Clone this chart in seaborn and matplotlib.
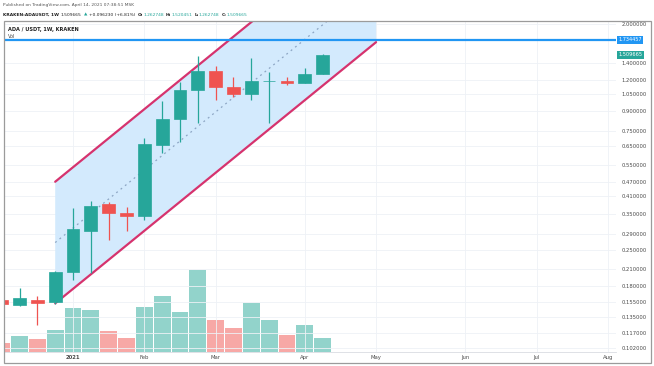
import numpy as np
import pandas as pd
import seaborn as sns
import matplotlib.pyplot as plt
import matplotlib.dates as mdates
from matplotlib.patches import Rectangle

sns.set_style("white")
plt.rcParams['font.family'] = ['DejaVu Sans']

# weekly candles ADA/USDT (Kraken)
week = ["2020-12-07", "2020-12-14", "2020-12-21", "2020-12-28", "2021-01-04",
        "2021-01-11", "2021-01-18", "2021-01-25", "2021-02-01", "2021-02-08",
        "2021-02-15", "2021-02-22", "2021-03-01", "2021-03-08", "2021-03-15",
        "2021-03-22", "2021-03-29", "2021-04-05", "2021-04-12"]
opens = [0.158, 0.1508, 0.1587, 0.1555, 0.2040, 0.2982, 0.3813, 0.3528, 0.3423, 0.6563,
         0.8386, 1.092, 1.301, 1.123, 1.050, 1.183, 1.190, 1.166, 1.262748]
highs = [0.168, 0.1769, 0.1639, 0.2072, 0.3675, 0.3942, 0.3906, 0.3729, 0.7040, 0.9870,
         1.179, 1.498, 1.362, 1.234, 1.462, 1.285, 1.228, 1.334, 1.520451]
lows = [0.140, 0.1494, 0.1254, 0.1529, 0.1899, 0.2019, 0.2744, 0.2982, 0.3300, 0.6131,
        0.678, 0.8038, 0.9962, 1.021, 0.9962, 0.8082, 1.1436, 1.162, 1.262748]
closes = [0.1522, 0.1613, 0.1544, 0.2038, 0.3028, 0.3764, 0.3509, 0.3433, 0.6624, 0.8386,
          1.092, 1.301, 1.126, 1.050, 1.183, 1.190, 1.165, 1.262748, 1.509665]
vol = [0.9, 1.57, 1.27, 2.17, 4.44, 4.24, 2.14, 1.40, 4.50, 5.57,
       4.00, 8.24, 3.20, 2.44, 4.87, 3.20, 1.70, 2.70, 1.40]

# parallel channel drawn on the chart
chan_dates = ["2020-12-28", "2021-05-03"]
chan_upper = [0.4694, 5.20]
chan_lower = [0.1532, 1.697]
hline_level = 1.734457

price_ticks = [2.0, 1.4, 1.2, 1.05, 0.9, 0.75, 0.65, 0.55, 0.47, 0.41, 0.35,
               0.29, 0.25, 0.21, 0.18, 0.155, 0.135, 0.117, 0.102]
month_labels = ["2021", "Feb", "Mar", "Apr", "May", "Jun", "Jul", "Aug"]

TEAL = "#26a69a"
RED = "#ef5350"
W, H = 654, 366


def fx(x):
    return x / W


def fy(y):
    return 1 - y / H


df = pd.DataFrame({"week": pd.to_datetime(week), "open": opens, "high": highs,
                   "low": lows, "close": closes, "vol": vol})
df["x"] = mdates.date2num(df["week"])
df["up"] = np.where(df["close"] >= df["open"], "up", "down")

fig = plt.figure(figsize=(W / 100, H / 100), dpi=100)
rect = [fx(4), fy(352), fx(616) - fx(4), fy(21) - fy(352)]
axv = fig.add_axes(rect)
ax = fig.add_axes(rect, sharex=axv)
ax.patch.set_alpha(0)

# volume
sns.barplot(data=df, x="x", y="vol", hue="up", native_scale=True, dodge=False,
            palette={"up": "#92d3cb", "down": "#f7a8a6"}, saturation=1,
            width=0.94, errorbar=None, legend=False, linewidth=0, ax=axv)
axv.set_ylim(0, 33.1)
axv.set_yticks([])
axv.set_xlabel("")
axv.set_ylabel("")
axv.tick_params(axis="x", labelbottom=False, length=0)
for s in axv.spines.values():
    s.set_visible(False)

# channel
cx = mdates.date2num(pd.to_datetime(chan_dates))
mid = np.sqrt(np.array(chan_upper) * np.array(chan_lower))
ax.fill_between(cx, chan_lower, chan_upper, color="#d3eafd", lw=0, zorder=1)
ax.plot(cx, mid, color="#8da6c4", lw=0.9, ls=(0, (1.5, 3)), zorder=2)
sns.lineplot(x=cx, y=chan_upper, color="#d6336e", lw=1.6, ax=ax, zorder=3)
sns.lineplot(x=cx, y=chan_lower, color="#d6336e", lw=1.6, ax=ax, zorder=3)
ax.axhline(hline_level, color="#2196f3", lw=1.6, zorder=4)

# candles
colors = [TEAL if u == "up" else RED for u in df["up"]]
ax.vlines(df["x"], df["low"], df["high"], colors=colors, lw=0.9, zorder=5)
body_lo = np.minimum(df["open"], df["close"])
body_hi = np.maximum(df["open"], df["close"])
ax.bar(df["x"], body_hi - body_lo, bottom=body_lo, width=5.0, color=colors,
       edgecolor=colors, linewidth=0.5, zorder=6)

ax.set_yscale("log")
ax.set_ylim(0.0979, 2.062)
ax.set_yticks(price_ticks)
ax.set_yticklabels([f"{p:.6f}" for p in price_ticks])
ax.yaxis.set_minor_locator(plt.NullLocator())
ax.yaxis.tick_right()
ax.tick_params(axis="y", length=0, pad=4, labelsize=3.8, labelcolor="#4a4a4a")
ax.set_ylabel("")

all_weeks = pd.date_range("2021-01-01", "2021-08-31", freq="W-MON")
firsts = pd.Series(all_weeks).groupby(all_weeks.month).first()
ax.set_xticks(mdates.date2num(firsts))
ax.set_xticklabels(month_labels)
ax.tick_params(axis="x", length=0, pad=2.5, labelsize=3.8, labelcolor="#4a4a4a")
ax.get_xticklabels()[0].set_fontweight("bold")
ax.set_xlim(mdates.date2num(pd.Timestamp("2020-12-07")) + 0.9,
            mdates.date2num(pd.Timestamp("2021-08-02")) + 3.2)
ax.grid(True, color="#eef1f6", lw=0.6)
ax.set_axisbelow(True)
for s in ["top", "left", "right"]:
    ax.spines[s].set_visible(False)
ax.spines["bottom"].set_color("#d9dce2")
ax.spines["bottom"].set_linewidth(0.6)

# price labels on the axis
lab_tr = ax.get_yaxis_transform()
ax.text(1.004, hline_level, f"{hline_level:.6f}", transform=lab_tr, fontsize=3.6,
        color="white", va="center", ha="left",
        bbox=dict(boxstyle="square,pad=0.25", fc="#2196f3", ec="none"))
ax.text(1.004, closes[-1], f"{closes[-1]:.6f}", transform=lab_tr, fontsize=3.6,
        color="white", va="center", ha="left",
        bbox=dict(boxstyle="square,pad=0.25", fc=TEAL, ec="none"))

# frame around the widget
fig.add_artist(Rectangle((fx(3.5), fy(363)), fx(650.5) - fx(3.5), fy(20.5) - fy(363),
                         transform=fig.transFigure, fill=False, ec="#9b9b9b", lw=0.9))

# header
fig.text(fx(3), fy(5), "Published on TradingView.com, April 14, 2021 07:38:51 MSK",
         fontsize=3.2, color="#555555", va="center")
pieces = [("KRAKEN:ADAUSDT, 1W", "#222222", "bold"), ("1.509665", "#222222", "normal"),
          ("\u25b2", TEAL, "normal"), ("+0.096230 (+6.81%)", "#222222", "normal"),
          ("O:", "#222222", "bold"), ("1.262748", TEAL, "normal"),
          ("H:", "#222222", "bold"), ("1.520451", TEAL, "normal"),
          ("L:", "#222222", "bold"), ("1.262748", TEAL, "normal"),
          ("C:", "#222222", "bold"), ("1.509665", TEAL, "normal")]
prev = fig.text(fx(3), fy(15), pieces[0][0], fontsize=3.2, color=pieces[0][1],
                weight=pieces[0][2], va="center")
for txt, col, wt in pieces[1:]:
    gap = 0.2 if txt[0].isdigit() and prev.get_text().endswith(":") else 1.4
    prev = ax.annotate(txt, xy=(1, 0.5), xycoords=prev, xytext=(gap, 0),
                       textcoords="offset points", fontsize=3.2, color=col,
                       weight=wt, va="center", ha="left", annotation_clip=False)

fig.text(fx(8), fy(29), "ADA / USDT, 1W, KRAKEN", fontsize=3.6, color="#222222",
         weight="bold", va="center")
fig.text(fx(8), fy(37), "Vol", fontsize=3.6, color="#444444", va="center")

fig.savefig("out.png", dpi=100)
